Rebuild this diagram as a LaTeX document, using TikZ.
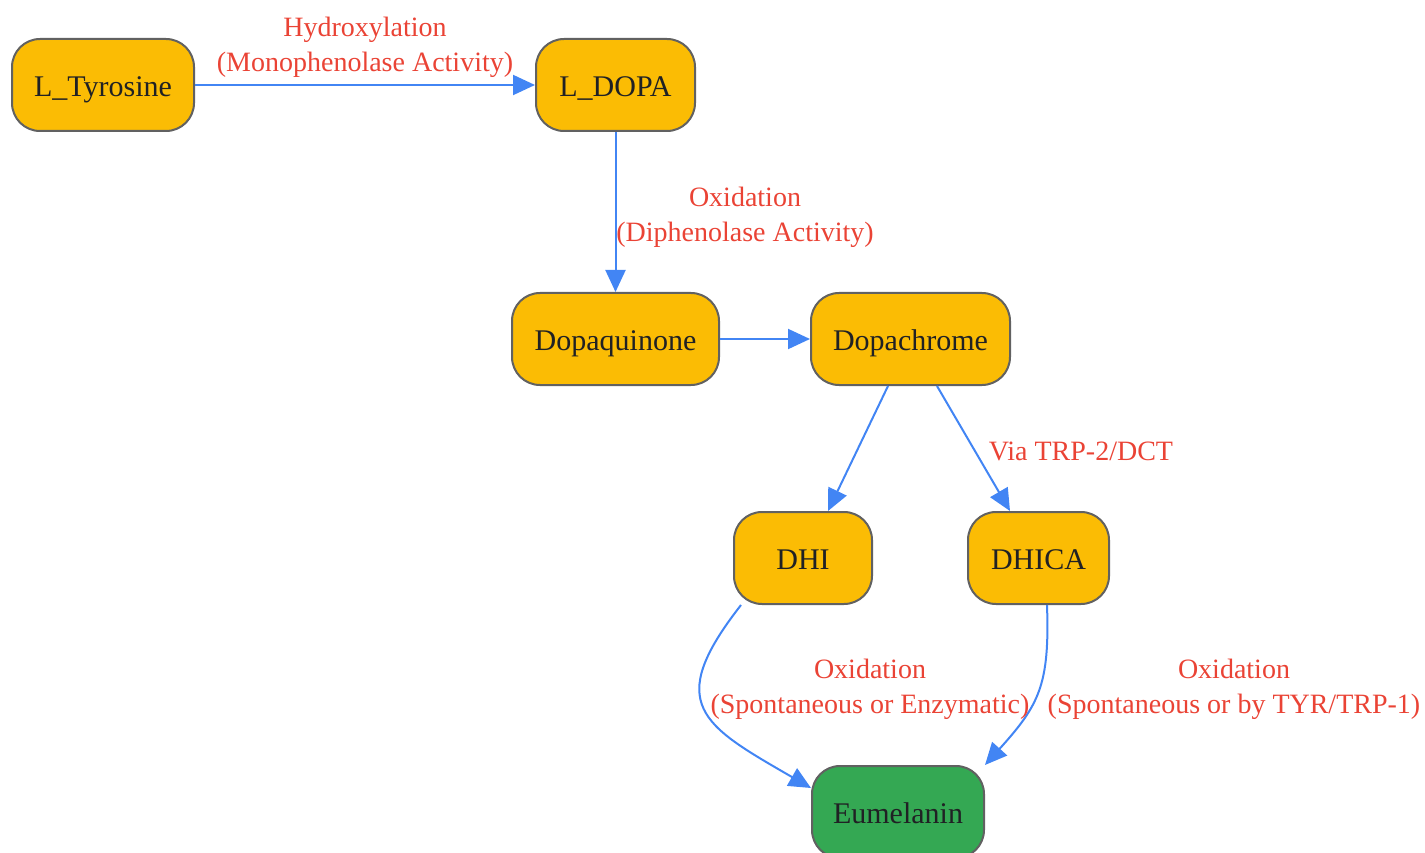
\documentclass[tikz,border=0pt]{standalone}
\usepackage{fontspec}
\setmainfont{Liberation Serif}
\usetikzlibrary{arrows.meta}
\definecolor{nodefill}{HTML}{FBBC04}
\definecolor{endfill}{HTML}{34A853}
\definecolor{nodeborder}{HTML}{616161}
\definecolor{nodetext}{HTML}{202124}
\definecolor{edgeblue}{HTML}{4285F4}
\definecolor{labelred}{HTML}{EA4335}
\tikzset{
  x=1pt, y=1pt,
  stepnode/.style={draw=nodeborder, line width=2pt, fill=nodefill, rounded corners=28pt,
    minimum height=92pt, inner sep=0pt, text=nodetext, text height=23pt, text depth=0pt,
    font=\fontsize{30}{36}\selectfont},
  endnode/.style={stepnode, fill=endfill},
  conn/.style={draw=edgeblue, line width=2pt, -{Triangle[length=22pt,width=20pt]}},
  lbl/.style={text=labelred, align=center, font=\fontsize{28}{35}\selectfont, inner sep=0pt},
}
\begin{document}
\begin{tikzpicture}
\useasboundingbox (0,0) rectangle (1425,-853);
\node[stepnode, minimum width=182pt] (tyr) at (103,-85) {L\_Tyrosine};
\node[stepnode, minimum width=159pt] (dopa) at (615.5,-85) {L\_DOPA};
\node[stepnode, minimum width=207pt] (dq) at (615.5,-339) {Dopaquinone};
\node[stepnode, minimum width=199pt] (dc) at (910.5,-339) {Dopachrome};
\node[stepnode, minimum width=138pt] (dhi) at (803,-558) {DHI};
\node[stepnode, minimum width=141pt] (dhica) at (1038.5,-558) {DHICA};
\node[endnode, minimum width=172pt] (eu) at (898,-812) {Eumelanin};

\draw[conn] (tyr) -- (dopa);
\draw[conn] (dopa) -- (dq);
\draw[conn] (dq) -- (dc);
\draw[conn] ([xshift=-22.5pt]dc.south) -- ([xshift=25pt]dhi.north);
\draw[conn] ([xshift=26.5pt]dc.south) -- ([xshift=-28.5pt]dhica.north);
\draw[conn] ([xshift=8pt]dhi.south west) to[out=-128, in=150, looseness=1.65] ([yshift=-23pt]eu.north west);
\draw[conn] ([xshift=8.5pt]dhica.south) to[out=-88, in=48, looseness=1.2] (eu.north east);

\node[lbl] (l1) at (365,-47.5) {Hydroxylation\\(Monophenolase Activity)};
\node[lbl] (l2) at (745,-217) {Oxidation\\(Diphenolase Activity)};
\node[lbl] (l3) at (1081,-451) {Via TRP-2/DCT};
\node[lbl] (l4) at (870,-689.5) {Oxidation\\(Spontaneous or Enzymatic)};
\node[lbl] (l5) at (1234,-689.5) {Oxidation\\(Spontaneous or by TYR/TRP-1)};
\end{tikzpicture}
\end{document}
